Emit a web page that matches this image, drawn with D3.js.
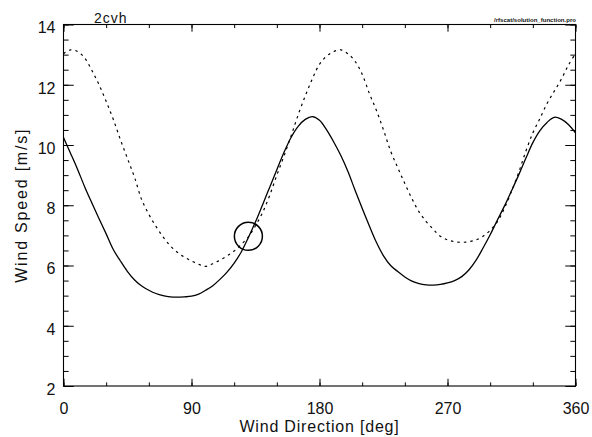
<!DOCTYPE html>
<html>
<head>
<meta charset="utf-8">
<script src="https://cdn.jsdelivr.net/npm/d3@7"></script>
<style>
  html, body { margin: 0; padding: 0; background: #fff; }
  svg { display: block; }
  text { font-family: "Liberation Sans", Arial, sans-serif; fill: #111; }
</style>
</head>
<body>
<svg id="chart" width="592" height="437"></svg>
<script>
// Wind direction samples (deg), every 5 degrees
const directions = d3.range(0, 361, 5);

// Solid curve: wind speed (m/s) at each direction
const solidSpeed = [
  10.25, 9.72, 9.18, 8.60, 8.07, 7.55, 7.05, 6.53, 6.15, 5.80,
  5.52, 5.32, 5.18, 5.07, 5.00, 4.96, 4.95, 4.96, 4.98, 5.05,
  5.18, 5.33, 5.54, 5.78, 6.08, 6.45, 6.93, 7.45, 8.02, 8.60,
  9.18, 9.75, 10.25, 10.62, 10.85, 10.94, 10.82, 10.50, 10.10, 9.65,
  9.12, 8.50, 7.90, 7.32, 6.77, 6.32, 6.00, 5.80, 5.62, 5.48,
  5.40, 5.36, 5.35, 5.37, 5.42, 5.50, 5.63, 5.85, 6.17, 6.58,
  7.02, 7.50, 7.97, 8.48, 9.00, 9.55, 10.08, 10.48, 10.75, 10.92,
  10.86, 10.68, 10.40
];

// Dotted curve: wind speed (m/s) at each direction
const dottedSpeed = [
  13.03, 13.16, 13.10, 12.88, 12.47, 12.00, 11.45, 10.85, 10.18, 9.55,
  8.92, 8.18, 7.70, 7.30, 6.95, 6.66, 6.44, 6.28, 6.15, 6.04,
  5.97, 6.06, 6.18, 6.32, 6.48, 6.70, 6.95, 7.32, 7.76, 8.33,
  9.00, 9.63, 10.30, 11.00, 11.63, 12.20, 12.68, 12.95, 13.10, 13.16,
  13.03, 12.78, 12.35, 11.72, 11.15, 10.50, 9.80, 9.25, 8.72, 8.22,
  7.78, 7.46, 7.20, 6.97, 6.85, 6.79, 6.77, 6.79, 6.85, 6.97,
  7.17, 7.45, 7.90, 8.46, 9.08, 9.78, 10.40, 10.88, 11.38, 11.78,
  12.18, 12.65, 13.03
];

// Marked point where the two curves cross
const markerPoint = [130, 6.97];

// Axis ticks
const xMajorTicks = [0, 90, 180, 270, 360];
const xMinorTicks = d3.range(0, 361, 30);
const yMajorTicks = [2, 4, 6, 8, 10, 12, 14];
const yMinorTicks = d3.range(2, 14.01, 0.5);

const titleText = "2cvh";
const sourceText = "/rfscat/solution_function.pro";
const xTitle = "Wind Direction [deg]";
const yTitle = "Wind Speed [m/s]";

const svg = d3.select("#chart");
const plotLeft = 63.5, plotRight = 575.5, plotTop = 24.5, plotBottom = 386;
const plotW = plotRight - plotLeft, plotH = plotBottom - plotTop;

const x = d3.scaleLinear().domain([0, 360]).range([plotLeft, plotRight]);
const y = d3.scaleLinear().domain([2, 14]).range([plotBottom, plotTop]);

// Tick lengths: 2% of the perpendicular plot size, minor ticks half that
const xMajorLen = 0.02 * plotH, xMinorLen = xMajorLen / 2;
const yMajorLen = 0.02 * plotW, yMinorLen = yMajorLen / 2;

function styleAxis(g) {
  g.select(".domain").remove();
  g.selectAll(".tick line").attr("stroke", "#000").attr("stroke-width", 1);
}

// Minor ticks (no labels) on all four sides
svg.append("g").attr("transform", `translate(0,${plotBottom})`)
  .call(d3.axisBottom(x).tickValues(xMinorTicks).tickSizeInner(-xMinorLen).tickSizeOuter(0).tickFormat(""))
  .call(styleAxis);
svg.append("g").attr("transform", `translate(0,${plotTop})`)
  .call(d3.axisTop(x).tickValues(xMinorTicks).tickSizeInner(-xMinorLen).tickSizeOuter(0).tickFormat(""))
  .call(styleAxis);
svg.append("g").attr("transform", `translate(${plotLeft},0)`)
  .call(d3.axisLeft(y).tickValues(yMinorTicks).tickSizeInner(-yMinorLen).tickSizeOuter(0).tickFormat(""))
  .call(styleAxis);
svg.append("g").attr("transform", `translate(${plotRight},0)`)
  .call(d3.axisRight(y).tickValues(yMinorTicks).tickSizeInner(-yMinorLen).tickSizeOuter(0).tickFormat(""))
  .call(styleAxis);

// Major ticks, labelled on bottom and left
const xAxisBottom = svg.append("g").attr("transform", `translate(0,${plotBottom})`)
  .call(d3.axisBottom(x).tickValues(xMajorTicks).tickSizeInner(-xMajorLen).tickSizeOuter(0)
    .tickPadding(17).tickFormat(d3.format("d")))
  .call(styleAxis);
xAxisBottom.attr("font-family", null).attr("font-size", null);
xAxisBottom.selectAll("text").attr("font-size", 16).attr("fill", "#111");

svg.append("g").attr("transform", `translate(0,${plotTop})`)
  .call(d3.axisTop(x).tickValues(xMajorTicks).tickSizeInner(-xMajorLen).tickSizeOuter(0).tickFormat(""))
  .call(styleAxis);

const yAxisLeft = svg.append("g").attr("transform", `translate(${plotLeft},0)`)
  .call(d3.axisLeft(y).tickValues(yMajorTicks).tickSizeInner(-yMajorLen).tickSizeOuter(0)
    .tickPadding(8).tickFormat(d3.format("d")))
  .call(styleAxis);
yAxisLeft.attr("font-family", null).attr("font-size", null);
yAxisLeft.selectAll("text").attr("font-size", 16).attr("fill", "#111").attr("dy", "0.52em");

svg.append("g").attr("transform", `translate(${plotRight},0)`)
  .call(d3.axisRight(y).tickValues(yMajorTicks).tickSizeInner(-yMajorLen).tickSizeOuter(0).tickFormat(""))
  .call(styleAxis);

// Plot frame
svg.append("rect")
  .attr("x", plotLeft).attr("y", plotTop).attr("width", plotW).attr("height", plotH)
  .attr("fill", "none").attr("stroke", "#000").attr("stroke-width", 1.1);

// Clip curves to the plot box
svg.append("clipPath").attr("id", "plotClip")
  .append("rect").attr("x", plotLeft).attr("y", plotTop).attr("width", plotW).attr("height", plotH);

const line = d3.line()
  .x(d => x(d[0]))
  .y(d => y(d[1]))
  .curve(d3.curveCatmullRom.alpha(0.5));

const curves = svg.append("g").attr("clip-path", "url(#plotClip)");

curves.append("path")
  .datum(directions.map((d, i) => [d, dottedSpeed[i]]))
  .attr("d", line)
  .attr("fill", "none").attr("stroke", "#000").attr("stroke-width", 1.2)
  .attr("stroke-dasharray", "2.5,4");

curves.append("path")
  .datum(directions.map((d, i) => [d, solidSpeed[i]]))
  .attr("d", line)
  .attr("fill", "none").attr("stroke", "#000").attr("stroke-width", 1.3);

// Circle marker at the crossing
svg.append("circle")
  .attr("cx", x(markerPoint[0])).attr("cy", y(markerPoint[1])).attr("r", 14)
  .attr("fill", "none").attr("stroke", "#000").attr("stroke-width", 1.5);

// Titles
svg.append("text")
  .attr("x", 94).attr("y", 22.5)
  .attr("font-size", 14).attr("letter-spacing", 1)
  .text(titleText);

svg.append("text")
  .attr("x", plotRight + 0.5).attr("y", 21.5)
  .attr("text-anchor", "end")
  .attr("font-size", 6).attr("font-weight", "bold")
  .attr("textLength", 82).attr("lengthAdjust", "spacingAndGlyphs")
  .text(sourceText);

svg.append("text")
  .attr("x", (plotLeft + plotRight) / 2).attr("y", 431.5)
  .attr("text-anchor", "middle")
  .attr("font-size", 16).attr("letter-spacing", 0.8)
  .text(xTitle);

svg.append("text")
  .attr("transform", `translate(27,${(plotTop + plotBottom) / 2}) rotate(-90)`)
  .attr("text-anchor", "middle")
  .attr("font-size", 16).attr("letter-spacing", 1.8)
  .text(yTitle);
</script>
</body>
</html>
